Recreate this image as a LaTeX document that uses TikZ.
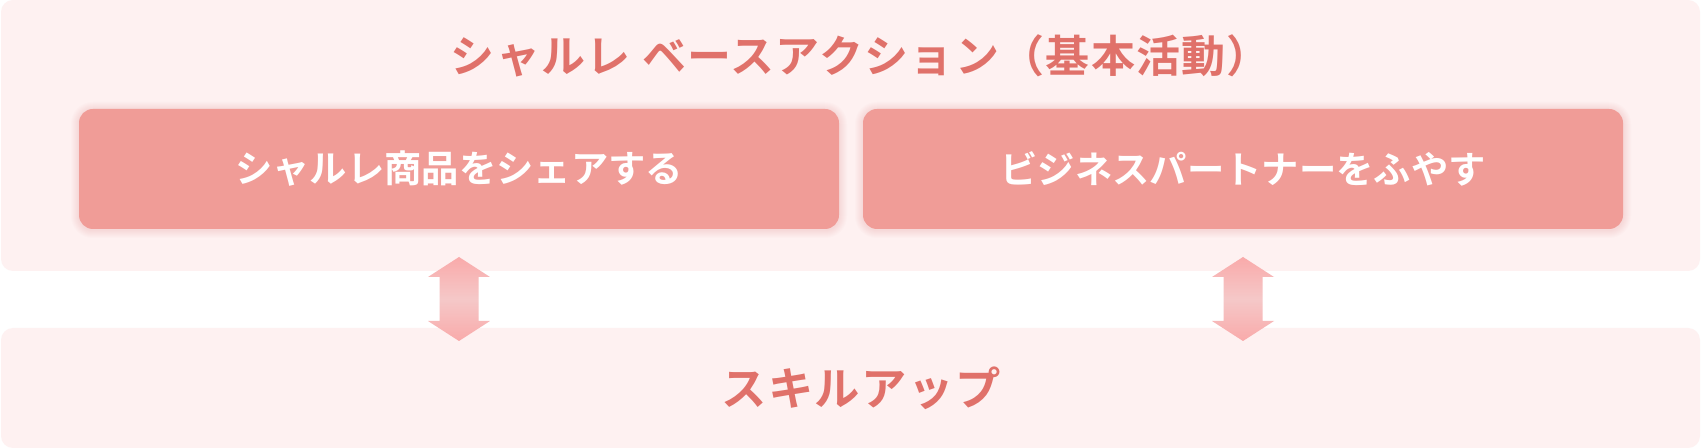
\documentclass[tikz,border=0pt]{standalone}
\usepackage{fontspec}
\newfontfamily\jp{Noto Sans CJK JP}[BoldFont=* Bold]
\usetikzlibrary{fit}
\definecolor{panelfill}{HTML}{FEF1F1}
\definecolor{cardfill}{HTML}{F09C97}
\definecolor{titlecol}{HTML}{E0716A}
\definecolor{shadowpink}{HTML}{E89A9A}
\definecolor{arrowA}{HTML}{F9AAAA}
\definecolor{arrowB}{HTML}{F5C8C8}
\tikzset{
  panel/.style={fill=panelfill, draw=none, rounded corners=9pt, inner sep=0pt},
  card/.style={fill=cardfill, draw=none, rounded corners=10.5pt, inner sep=0pt},
  titletext/.style={text=titlecol, font=\jp\bfseries\fontsize{33}{38}\selectfont\addfontfeature{LetterSpace=3}, inner sep=0pt},
  skilltext/.style={text=titlecol, font=\jp\bfseries\fontsize{34}{38}\selectfont\addfontfeature{LetterSpace=3}, inner sep=0pt},
  cardtext/.style={text=white, font=\jp\bfseries\fontsize{28}{32}\selectfont, inner sep=0pt},
  dblarrow/.style={top color=arrowA, bottom color=arrowA, middle color=arrowB, draw=none}
}
\newcommand{\cardshadow}[4]{%
  \foreach \r in {1,...,8}{%
    \fill[shadowpink, opacity=0.03, rounded corners={(14+\r)*0.75pt}] (#1-\r,#2-\r+1) rectangle (#3+\r,#4+\r+1);
  }%
}
\newcommand{\dblarrowpath}[1]{%
  \path[dblarrow] (#1) +(0,-42) -- +(31,-22) -- +(19.5,-22) -- +(19.5,22) -- +(31,22) -- +(0,42) -- +(-31,22) -- +(-19.5,22) -- +(-19.5,-22) -- +(-31,-22) -- cycle;
}
\begin{document}
\begin{tikzpicture}[x=0.75pt,y=-0.75pt]
\useasboundingbox (0,0) rectangle (1701,448);
\fill[white] (0,0) rectangle (1701,448);
% panels
\node[panel, fit={(1,0) (1700,271)}] (base) {};
\node[panel, fit={(1,328) (1700,448)}] (skill) {};
\node[titletext] (title) at (861,56) {シャルレ ベースアクション（基本活動）};
\node[skilltext] (skilltext) at (861,388) {スキルアップ};
% cards
\cardshadow{79}{109}{839}{229}
\cardshadow{863}{109}{1623}{229}
\node[card, fit={(79,109) (839,229)}] (share) {};
\node[card, fit={(863,109) (1623,229)}] (partner) {};
\node[cardtext] (sharetext) at (share.center) {シャルレ商品をシェアする};
\node[cardtext] (partnertext) at (partner.center) {ビジネスパートナーをふやす};
% arrows
\coordinate (la) at (share.center |- 0,299);
\coordinate (ra) at (partner.center |- 0,299);
\dblarrowpath{la}
\dblarrowpath{ra}
\end{tikzpicture}
\end{document}
